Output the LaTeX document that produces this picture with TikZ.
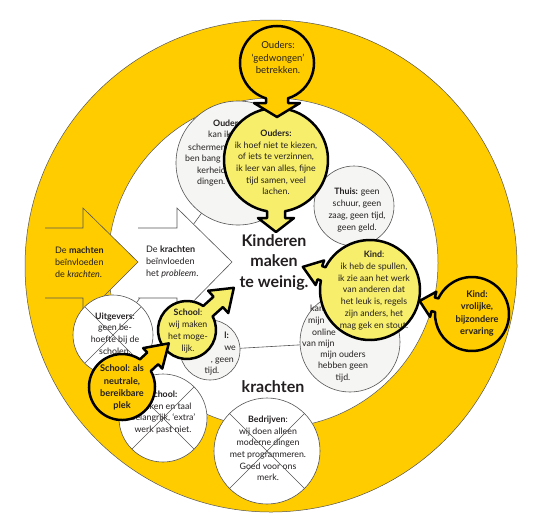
\documentclass[tikz,border=0pt]{standalone}
\usepackage{fontspec}
\setmainfont{Lato}
\usetikzlibrary{calc}
\definecolor{ring}{RGB}{255,204,0}
\definecolor{lightyel}{RGB}{247,238,108}
\definecolor{greyfill}{RGB}{245,245,243}
\definecolor{edge}{RGB}{85,85,85}
\definecolor{textc}{RGB}{35,31,32}
% #1 centre, #2 radius, #3 direction, #4 stem half width, #5 head half width, #6 head base distance, #7 tip distance, #8 fill
\newcommand{\arrowcirc}[8]{%
  \pgfmathsetmacro{\acA}{asin(#4/#2)}%
  \pgfmathsetmacro{\acS}{#3+\acA}%
  \pgfmathsetmacro{\acE}{#3-\acA+360}%
  \filldraw[fill=#8, draw=black, line width=2.5pt, line join=round]
    ($(#1)+(\acS:#2)$) arc[start angle=\acS, end angle=\acE, radius=#2]
    -- ($(#1)+(#3:#6)+(#3-90:#4)$) -- ($(#1)+(#3:#6)+(#3-90:#5)$)
    -- ($(#1)+(#3:#7)$)
    -- ($(#1)+(#3:#6)+(#3+90:#5)$) -- ($(#1)+(#3:#6)+(#3+90:#4)$) -- cycle;
}
\begin{document}
\begin{tikzpicture}[x=1pt,y=1pt,yscale=-1,
  conn/.style={draw=edge, line width=0.6pt},
  greycirc/.style={circle, fill=greyfill, draw=edge, line width=0.6pt, inner sep=0pt},
  crosscirc/.style={circle, fill=white, draw=edge, line width=0.6pt, inner sep=0pt},
  txt/.style={font=\fontsize{8.8}{11.7}\selectfont, align=center, text=textc, inner sep=0pt},
  linetxt/.style={font=\fontsize{8.8}{11.7}\selectfont, text=textc, inner sep=0pt, anchor=base west},
  linetxtr/.style={font=\fontsize{8.8}{11.7}\selectfont, text=textc, inner sep=0pt, anchor=base east},
  bigtxt/.style={font=\bfseries\fontsize{16}{20.5}\selectfont, align=center, text=textc, inner sep=0pt},
  outtxt/.style={font=\bfseries\fontsize{9.2}{12.2}\selectfont, align=center, text=textc, inner sep=0pt},
  gedtxt/.style={font=\fontsize{9.6}{12.5}\selectfont, align=center, text=textc, inner sep=0pt},
  arrowtxt/.style={font=\fontsize{9}{12}\selectfont, align=left, text=textc, inner sep=0pt, anchor=west}
]
\useasboundingbox (0,0) rectangle (545,525);
\fill[white] (0,0) rectangle (545,525);
% ring
\coordinate (O) at (271,266);
\coordinate (I) at (273,263);
\filldraw[fill=ring, draw=edge, line width=0.5pt] (O) circle[radius=246];
\filldraw[fill=white, draw=edge, line width=0.5pt] (I) circle[radius=165];

% centres of the force circles
\coordinate (cOudersG) at (238,163);
\coordinate (cThuis) at (354,206);
\coordinate (cKindG) at (350,342);
\coordinate (cSchoolG) at (210,350);
\coordinate (cUitg) at (113,335);
\coordinate (cSchoolX) at (163,418);
\coordinate (cBedr) at (267,451);

% connectors
\draw[conn] (cOudersG) -- (cUitg);
\draw[conn] (cSchoolG) -- (cKindG);

% arrows
\filldraw[fill=white, draw=edge, line width=0.6pt]
  (138,228) -- (177,228) -- (177,208) -- (232,262) -- (177,318) -- (177,298) -- (138,298);
\filldraw[fill=ring, draw=edge, line width=0.6pt]
  (45,228) -- (83,228) -- (83,208) -- (138,262) -- (83,317) -- (83,298) -- (45,298);
\node[arrowtxt] (machtent) at (55,262) {De \textbf{machten}\\beïnvloeden\\de \textit{krachten}.};
\node[arrowtxt] (krachtent) at (146,262) {De \textbf{krachten}\\beïnvloeden\\het \textit{probleem}.};

% grey circles
\node[greycirc, minimum size=124pt] (oudersG) at (cOudersG) {};
\node[linetxt] (og1) at (213,126) {\textbf{Ouders:}};
\node[linetxt] (og2) at (208,137.5) {kan ik};
\node[linetxt] (og3) at (188,150) {schermen};
\node[linetxt] (og4) at (185,161.5) {ben bang v};
\node[linetxt] (og5) at (197,173) {kerheid};
\node[linetxt] (og6) at (197,184.5) {dingen.};
\node[greycirc, minimum size=80pt] (thuis) at (cThuis) {};
\node[txt] (thuist) at (357,210) {\textbf{Thuis:} geen\\schuur, geen\\zaag, geen tijd,\\geen geld.};
\node[greycirc, minimum size=100pt] (kindG) at (cKindG) {};
\node[linetxt] (kg1) at (310,311) {kan ik};
\node[linetxt] (kg2) at (308,323) {mijn};
\node[linetxt] (kg3) at (312,335) {online};
\node[linetxt] (kg4) at (302,346.5) {van mijn};
\node[txt] (kgt) at (343,366.5) {mijn ouders\\hebben geen\\tijd.};
\node[greycirc, minimum size=60pt] (schoolG) at (cSchoolG) {};
\node[linetxtr] (sg1) at (229,338) {\textbf{l:}};
\node[linetxtr] (sg2) at (236,350) {we};
\node[linetxtr] (sg3) at (234,362.5) {, geen};
\node[txt] (sg4) at (212,371) {tijd.};

% crossed circles
\node[crosscirc, minimum size=80pt] (uitg) at (cUitg) {};
\node[txt] (uitgt) at (115,333.5) {\textbf{Uitgevers}:\\geen be-\\hoefte bij de\\scholen.};
\draw[conn] ($(cUitg)+(45:40)$) -- ($(cUitg)+(225:40)$);
\draw[conn] ($(cUitg)+(135:40)$) -- ($(cUitg)+(315:40)$);
\node[crosscirc, minimum size=88pt] (schoolX) at (cSchoolX) {};
\node[txt] (schoolXt) at (163,412.5) {\textbf{School:}\\Boeken en taal\\belangrijk, ‘extra’\\werk past niet.};
\draw[conn] ($(cSchoolX)+(45:44)$) -- ($(cSchoolX)+(225:44)$);
\draw[conn] ($(cSchoolX)+(135:44)$) -- ($(cSchoolX)+(315:44)$);
\node[crosscirc, minimum size=106pt] (bedr) at (cBedr) {};
\node[txt] (bedrt) at (268,448.5) {\textbf{Bedrijven}:\\wij doen alleen\\moderne dingen\\met programmeren.\\Goed voor ons\\merk.};
\draw[conn] ($(cBedr)+(45:53)$) -- ($(cBedr)+(225:53)$);
\draw[conn] ($(cBedr)+(135:53)$) -- ($(cBedr)+(315:53)$);

% central texts
\node[bigtxt] (probleem) at (274,262) {Kinderen\\maken\\te weinig.};
\node[bigtxt] (krachten) at (273,387) {krachten};

% light circles
\coordinate (cOudersL) at (276,160);
\arrowcirc{cOudersL}{52}{90}{9}{18}{58}{72}{lightyel}
\node[txt] (oudersLt) at (276,162.5) {\textbf{Ouders:}\\ik hoef niet te kiezen,\\of iets te verzinnen,\\ik leer van alles, fijne\\tijd samen, veel\\lachen.};
\coordinate (cKindL) at (370,290);
\arrowcirc{cKindL}{50}{199}{7}{13}{53}{71}{lightyel}
\node[txt] (kindLt) at (374,290.5) {\textbf{Kind}:\\ik heb de spullen,\\ik zie aan het werk\\van anderen dat\\het leuk is, regels\\zijn anders, het\\mag gek en stout.};
\coordinate (cSchoolL) at (187,330);
\arrowcirc{cSchoolL}{29}{318}{7}{15}{42}{63}{lightyel}
\node[txt] (schoolLt) at (188,331) {\textbf{School}:\\wij maken\\het moge-\\lijk.};

% outer circles
\coordinate (cGedw) at (277,63);
\arrowcirc{cGedw}{37}{90}{11}{23}{40}{54}{ring}
\node[gedtxt] (gedwt) at (278,57.7) {Ouders:\\‘gedwongen’\\betrekken.};
\coordinate (cVrol) at (472,314);
\arrowcirc{cVrol}{37}{194}{7}{13}{40}{54}{ring}
\node[outtxt] (vrolt) at (477,313.5) {Kind:\\vrolijke,\\bijzondere\\ervaring};
\coordinate (cNeut) at (122,387);
\arrowcirc{cNeut}{33}{317}{8}{14}{42}{64}{ring}
\node[outtxt] (neutt) at (122,387.5) {School: als\\neutrale,\\bereikbare\\plek};
\end{tikzpicture}
\end{document}
